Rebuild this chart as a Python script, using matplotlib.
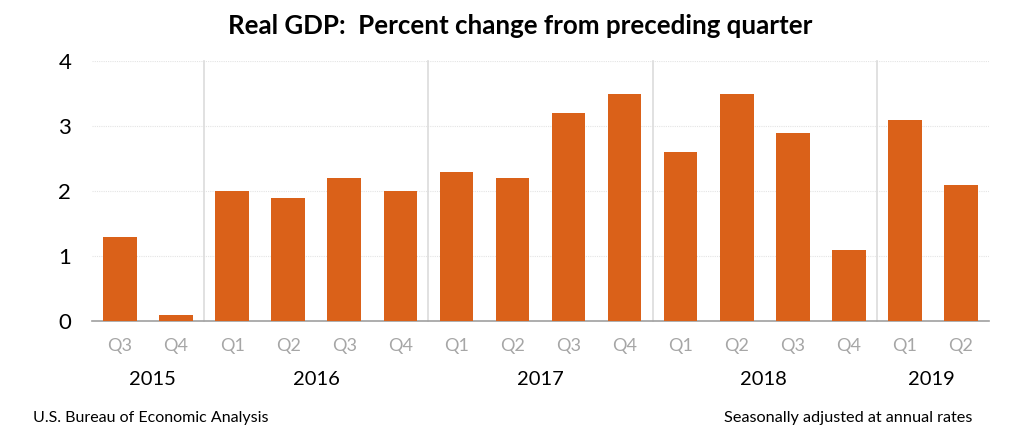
import matplotlib
matplotlib.use("Agg")
import matplotlib.pyplot as plt

quarters = ["Q3", "Q4", "Q1", "Q2", "Q3", "Q4", "Q1", "Q2", "Q3", "Q4",
            "Q1", "Q2", "Q3", "Q4", "Q1", "Q2"]
values = [1.3, 0.1, 2.0, 1.9, 2.2, 2.0, 2.3, 2.2, 3.2, 3.5, 2.6, 3.5, 2.9, 1.1, 3.1, 2.1]
years = ["2015", "2016", "2017", "2018", "2019"]
year_centers = [0.57, 3.5, 7.5, 11.47, 14.47]
year_breaks = [1.5, 5.5, 9.5, 13.5]

plt.rcParams["font.family"] = ["Lato", "DejaVu Sans"]

fig = plt.figure(figsize=(10.24, 4.42), dpi=100)
ax = fig.add_axes([92 / 1024, 1 - 321 / 442, (989 - 92) / 1024, (321 - 61) / 442])

x = list(range(len(values)))
ax.bar(x, values, width=0.6, color="#DA6119", zorder=3)

ax.set_xlim(-0.5, 15.5)
ax.set_ylim(0, 4)
ax.set_yticks([0, 1, 2, 3, 4])
ax.set_xticks(x)
ax.set_xticklabels(quarters)
ax.tick_params(axis="x", length=0, pad=12, labelsize=13, labelcolor="#A6A6A6")
ax.tick_params(axis="y", length=0, pad=15, labelsize=16, labelcolor="black")
ax.grid(axis="y", color="#E4E4E4", linewidth=0.8, linestyle=(0, (1, 1)), zorder=0)
ax.set_axisbelow(True)

for s in ["top", "right", "left"]:
    ax.spines[s].set_visible(False)
ax.spines["bottom"].set_color("#A0A0A0")
ax.spines["bottom"].set_linewidth(1.2)

# year separators run from the top of the plot down to the axis
for b in year_breaks:
    ax.plot([b, b], [0, 1], transform=ax.get_xaxis_transform(), color="#DCDCDC",
            linewidth=1.2, zorder=2, clip_on=False)

for c, y in zip(year_centers, years):
    ax.text(c, -0.9, y, ha="center", va="center", fontsize=14.5, color="black")

fig.text(520 / 1024, 1 - 26 / 442, "Real GDP:  Percent change from preceding quarter",
         ha="center", va="center", fontsize=18.6, fontweight="bold", color="black")
fig.text(33 / 1024, 1 - 418 / 442, "U.S. Bureau of Economic Analysis",
         ha="left", va="center", fontsize=11.5, color="black")
fig.text(972 / 1024, 1 - 418 / 442, "Seasonally adjusted at annual rates",
         ha="right", va="center", fontsize=11.7, color="black")

fig.savefig("out.png", dpi=100, facecolor="white")
print("ok")
